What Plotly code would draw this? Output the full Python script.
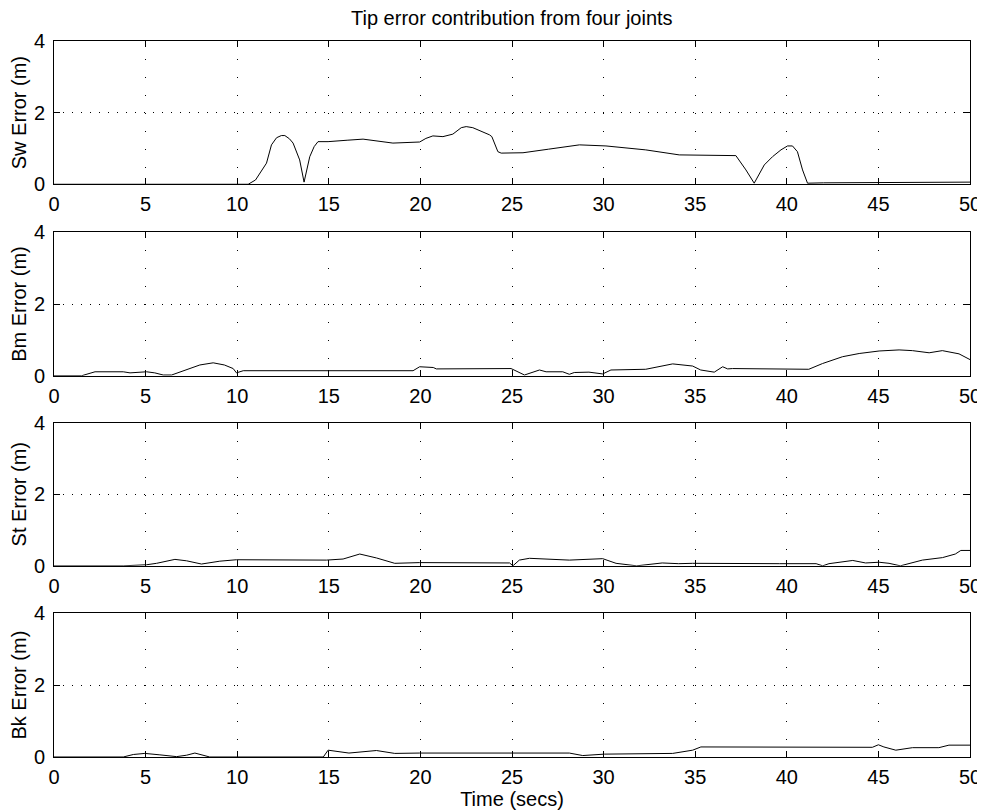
import plotly.graph_objects as go

# ---- data ----
sw_t = [0, 10.6, 11.0, 11.6, 11.87, 12.15, 12.41, 12.6, 12.85, 13.05, 13.41, 13.65, 13.96, 14.2, 14.41, 14.96, 16.0, 16.87, 18.5, 19.96,
        20.3, 20.68, 21.23, 21.77, 22.23, 22.5, 22.86, 23.3, 23.77, 23.9, 24.23, 24.41, 25.6, 27.0, 28.68, 30.13, 32.3, 34.13, 37.22, 37.77,
        38.22, 38.77, 39.22, 39.68, 40.04, 40.31, 40.58, 40.86, 41.13, 42.0, 46.0, 50.0]
sw_v = [0, 0, 0.12, 0.59, 1.1, 1.3, 1.36, 1.36, 1.27, 1.15, 0.68, 0.06, 0.77, 1.05, 1.19, 1.19, 1.23, 1.26, 1.15, 1.18,
        1.28, 1.35, 1.33, 1.40, 1.58, 1.61, 1.58, 1.49, 1.38, 1.33, 0.91, 0.87, 0.88, 0.98, 1.10, 1.07, 0.96, 0.82, 0.80, 0.40,
        0.03, 0.54, 0.77, 0.96, 1.07, 1.07, 0.91, 0.40, 0.03, 0.04, 0.05, 0.06]

bm_t = [0, 1.51, 2.24, 3.78, 4.15, 5.05, 5.5, 5.96, 6.42, 7.24, 7.96, 8.69, 9.3, 9.78, 9.96, 10.33, 15.24, 19.6, 19.96, 20.7,
        20.87, 24.95, 25.68, 26.5, 26.86, 27.77, 28.13, 28.4, 29.2, 29.95, 30.4, 32.3, 33.77, 34.86, 35.3, 36.04, 36.5, 36.77, 37.04, 41.2,
        41.95, 43.04, 43.95, 45.04, 46.13, 46.86, 47.77, 48.49, 49.4, 50.0]
bm_v = [0, 0, 0.11, 0.11, 0.08, 0.11, 0.08, 0.02, 0.02, 0.16, 0.30, 0.36, 0.30, 0.20, 0.08, 0.14, 0.14, 0.14, 0.25, 0.23,
        0.19, 0.20, 0.02, 0.16, 0.11, 0.11, 0.04, 0.09, 0.10, 0.05, 0.16, 0.18, 0.33, 0.27, 0.16, 0.10, 0.25, 0.19, 0.20, 0.18,
        0.34, 0.53, 0.62, 0.69, 0.72, 0.70, 0.64, 0.70, 0.61, 0.45]

st_t = [0, 3.78, 5.05, 5.6, 6.6, 7.24, 8.05, 9.05, 9.96, 14.87, 15.78, 16.69, 17.6, 18.6, 19.96, 24.87, 25.05, 25.4, 25.95, 28.13,
        29.95, 30.68, 31.8, 33.2, 34.1, 34.86, 39.59, 41.6, 41.96, 42.3, 43.6, 44.3, 45.04, 45.58, 46.2, 47.4, 48.5, 49.2, 49.5, 50.0]
st_v = [0, 0, 0.03, 0.07, 0.18, 0.14, 0.05, 0.13, 0.17, 0.16, 0.19, 0.33, 0.22, 0.07, 0.09, 0.08, 0.0, 0.16, 0.21, 0.16,
        0.20, 0.07, 0.0, 0.08, 0.06, 0.07, 0.06, 0.06, 0.0, 0.06, 0.15, 0.08, 0.10, 0.07, 0.0, 0.16, 0.23, 0.33, 0.43, 0.43]

bk_t = [0, 3.78, 4.33, 4.96, 5.78, 6.69, 7.24, 7.69, 8.5, 14.7, 14.96, 16.1, 17.6, 18.6, 19.96, 28.13, 28.86, 29.4, 30.04, 33.77,
        34.86, 35.31, 44.67, 45.0, 45.3, 45.95, 46.86, 48.3, 48.85, 50.0]
bk_v = [0, 0, 0.07, 0.10, 0.06, 0.01, 0.05, 0.11, 0.0, 0.0, 0.19, 0.11, 0.18, 0.10, 0.11, 0.11, 0.04, 0.05, 0.08, 0.10,
        0.19, 0.28, 0.27, 0.34, 0.28, 0.19, 0.26, 0.26, 0.33, 0.33]

y_titles = ["Sw Error (m)", "Bm Error (m)", "St Error (m)", "Bk Error (m)"]
x_ticks = [0, 5, 10, 15, 20, 25, 30, 35, 40, 45, 50]
y_ticks = [0, 2, 4]
title_text = "Tip error contribution from four joints"
x_title = "Time (secs)"

series = [(sw_t, sw_v), (bm_t, bm_v), (st_t, st_v), (bk_t, bk_v)]
domains = [[0.7999, 1.0], [0.5325, 0.7328], [0.267, 0.467], [0.0, 0.2007]]

FONT = "Liberation Sans, Arial, Helvetica, sans-serif"
FS = 20
fig = go.Figure()
layout = {}
for i, ((t, v), dom, yt) in enumerate(zip(series, domains, y_titles)):
    n = i + 1
    xa = "x" if n == 1 else f"x{n}"
    ya = "y" if n == 1 else f"y{n}"
    fig.add_trace(go.Scatter(x=t, y=v, mode="lines", line=dict(color="black", width=1),
                             xaxis=xa, yaxis=ya, showlegend=False, hoverinfo="skip"))
    xkey = "xaxis" if n == 1 else f"xaxis{n}"
    ykey = "yaxis" if n == 1 else f"yaxis{n}"
    layout[xkey] = dict(
        domain=[0, 1], anchor=ya, range=[0, 50], tickvals=x_ticks, ticktext=[str(x) for x in x_ticks],
        showline=True, linecolor="black", linewidth=1, mirror="ticks",
        ticks="inside", ticklen=6, tickcolor="black", tickwidth=1,
        showgrid=True, gridcolor="black", gridwidth=1, griddash="1px,17px",
        zeroline=False, tickfont=dict(family=FONT, size=FS, color="black"),
        ticklabelstandoff=2, fixedrange=True, automargin=False,
    )
    if n == 4:
        layout[xkey]["title"] = dict(text=x_title, font=dict(family=FONT, size=FS, color="black"), standoff=0)
    layout[ykey] = dict(
        domain=dom, anchor=xa, range=[0, 4], tickvals=y_ticks, ticktext=[str(y) for y in y_ticks],
        showline=True, linecolor="black", linewidth=1, mirror="ticks",
        ticks="inside", ticklen=6, tickcolor="black", tickwidth=1,
        showgrid=True, gridcolor="black", gridwidth=1, griddash="1px,8px",
        zeroline=False, tickfont=dict(family=FONT, size=FS, color="black"),
        ticklabelstandoff=4, automargin=False,
        title=dict(text=yt, font=dict(family=FONT, size=FS, color="black"), standoff=4),
        fixedrange=True,
    )

fig.update_layout(**layout)
# page body has an 8px margin, so the figure is sized/placed to compensate
fig.update_layout(
    width=977, height=803,
    margin=dict(l=46, r=15, t=33, b=54),
    paper_bgcolor="white", plot_bgcolor="white",
    annotations=[dict(text=title_text, xref="paper", yref="paper", x=0.5, y=1 + 23 / 716,
                      xanchor="center", yanchor="middle", showarrow=False,
                      font=dict(family=FONT, size=FS, color="black"))],
)
fig.write_html("out.html")
